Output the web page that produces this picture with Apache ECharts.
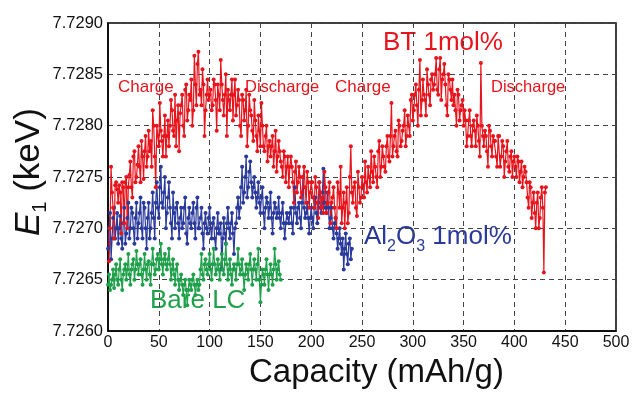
<!DOCTYPE html>
<html><head><meta charset="utf-8">
<script src="https://cdn.jsdelivr.net/npm/echarts@6/dist/echarts.min.js"></script>
<style>html,body{margin:0;padding:0;background:#fff}#c{width:638px;height:394px}</style>
</head><body><div id="c"></div>
<script>
// Capacity sampling (mAh/g): first reading and spacing; the "Mid" arrays sit half a step later
const redStart = 1, redStep = 2;
const blueStart = 0, blueStep = 2;
const greenStart = 0, greenStep = 2;

// E1 (keV) values
const btValues = [
7.72668,7.72760,7.72720,7.72742,7.72738,
7.72742,7.72695,7.72740,7.72745,7.72700,
7.72752,7.72740,7.72770,7.72745,7.72762,
7.72760,7.72785,7.72748,7.72790,7.72770,
7.72775,7.72760,7.72800,7.72740,7.72790,
7.72822,7.72785,7.72790,7.72770,7.72805,
7.72800,7.72815,7.72790,7.72780,7.72820,
7.72812,7.72830,7.72790,7.72840,7.72815,
7.72825,7.72800,7.72868,7.72820,7.72872,
7.72835,7.72855,7.72790,7.72830,7.72825,
7.72835,7.72820,7.72840,7.72795,7.72830,
7.72864,7.72825,7.72830,7.72790,7.72825,
7.72830,7.72805,7.72845,7.72820,7.72825,
7.72790,7.72825,7.72815,7.72780,7.72830,
7.72810,7.72785,7.72805,7.72775,7.72795,
7.72822,7.72780,7.72790,7.72765,7.72785,
7.72780,7.72760,7.72795,7.72770,7.72775,
7.72760,7.72775,7.72745,7.72770,7.72760,
7.72760,7.72725,7.72765,7.72745,7.72750,
7.72735,7.72760,7.72725,7.72745,7.72735,
7.72745,7.72720,7.72740,7.72710,7.72735,
7.72730,7.72755,7.72715,7.72735,7.72705,
7.72730,7.72720,7.72700,7.72735,7.72760,
7.72720,7.72700,7.72740,7.72715,7.72780,
7.72725,7.72745,7.72712,7.72740,7.72730,
7.72742,7.72765,7.72735,7.72750,7.72775,
7.72745,7.72760,7.72740,7.72785,7.72760,
7.72770,7.72755,7.72790,7.72765,7.72822,
7.72780,7.72795,7.72770,7.72800,7.72785,
7.72800,7.72780,7.72810,7.72790,7.72830,
7.72815,7.72840,7.72800,7.72864,7.72825,
7.72830,7.72810,7.72840,7.72820,7.72850,
7.72840,7.72866,7.72830,7.72866,7.72845,
7.72860,7.72820,7.72850,7.72835,7.72845,
7.72830,7.72800,7.72830,7.72815,7.72825,
7.72815,7.72780,7.72805,7.72790,7.72800,
7.72795,7.72810,7.72785,7.72861,7.72790,
7.72795,7.72775,7.72800,7.72780,7.72790,
7.72785,7.72760,7.72790,7.72770,7.72780,
7.72765,7.72785,7.72755,7.72775,7.72765,
7.72760,7.72770,7.72745,7.72765,7.72750,
7.72755,7.72730,7.72745,7.72710,7.72735,
7.72700,7.72735,7.72710,7.72740,7.72657,
7.72740
];
const btValuesMid = [
7.72700,7.72735,7.72690,7.72745,7.72725,
7.72735,7.72745,7.72705,7.72750,7.72740,
7.72765,7.72730,7.72775,7.72750,7.72780,
7.72745,7.72770,7.72775,7.72760,7.72795,
7.72785,7.72815,7.72770,7.72800,7.72780,
7.72795,7.72770,7.72810,7.72790,7.72780,
7.72825,7.72795,7.72830,7.72805,7.72775,
7.72820,7.72800,7.72835,7.72805,7.72830,
7.72845,7.72815,7.72840,7.72860,7.72830,
7.72820,7.72840,7.72815,7.72845,7.72830,
7.72815,7.72845,7.72825,7.72840,7.72815,
7.72840,7.72810,7.72850,7.72835,7.72815,
7.72845,7.72830,7.72810,7.72835,7.72800,
7.72830,7.72805,7.72835,7.72800,7.72815,
7.72795,7.72825,7.72790,7.72810,7.72780,
7.72800,7.72775,7.72800,7.72780,7.72770,
7.72790,7.72775,7.72755,7.72785,7.72765,
7.72750,7.72770,7.72760,7.72740,7.72770,
7.72745,7.72755,7.72735,7.72760,7.72730,
7.72750,7.72740,7.72755,7.72720,7.72745,
7.72730,7.72750,7.72725,7.72745,7.72720,
7.72715,7.72740,7.72725,7.72745,7.72725,
7.72740,7.72710,7.72745,7.72720,7.72705,
7.72735,7.72725,7.72705,7.72750,7.72735,
7.72740,7.72720,7.72755,7.72725,7.72750,
7.72730,7.72745,7.72760,7.72740,7.72755,
7.72770,7.72750,7.72775,7.72750,7.72780,
7.72760,7.72780,7.72770,7.72790,7.72770,
7.72790,7.72775,7.72805,7.72780,7.72795,
7.72815,7.72790,7.72800,7.72825,7.72805,
7.72830,7.72820,7.72835,7.72810,7.72845,
7.72825,7.72855,7.72830,7.72845,7.72835,
7.72850,7.72835,7.72855,7.72825,7.72850,
7.72840,7.72810,7.72845,7.72825,7.72820,
7.72815,7.72835,7.72805,7.72820,7.72800,
7.72805,7.72790,7.72815,7.72780,7.72805,
7.72780,7.72800,7.72770,7.72800,7.72780,
7.72790,7.72760,7.72795,7.72770,7.72785,
7.72770,7.72790,7.72760,7.72785,7.72750,
7.72775,7.72760,7.72770,7.72750,7.72770,
7.72750,7.72765,7.72755,7.72740,7.72760,
7.72745,7.72720,7.72740,7.72725,7.72715,
7.72725,7.72700,7.72730,7.72720,7.72735
];
const al2o3Values = [
7.72680,7.72715,7.72690,7.72720,7.72700,
7.72685,7.72712,7.72680,7.72720,7.72695,
7.72725,7.72700,7.72715,7.72685,7.72725,
7.72705,7.72730,7.72690,7.72720,7.72680,
7.72725,7.72700,7.72735,7.72690,7.72745,
7.72710,7.72760,7.72720,7.72750,7.72715,
7.72745,7.72705,7.72735,7.72700,7.72725,
7.72690,7.72720,7.72705,7.72730,7.72685,
7.72720,7.72700,7.72725,7.72690,7.72730,
7.72700,7.72720,7.72680,7.72715,7.72695,
7.72720,7.72690,7.72710,7.72680,7.72715,
7.72695,7.72660,7.72710,7.72685,7.72720,
7.72690,7.72715,7.72675,7.72705,7.72730,
7.72720,7.72760,7.72735,7.72770,7.72740,
7.72765,7.72730,7.72750,7.72720,7.72745,
7.72715,7.72740,7.72700,7.72730,7.72710,
7.72735,7.72695,7.72725,7.72710,7.72730,
7.72700,7.72725,7.72690,7.72715,7.72705,
7.72720,7.72695,7.72740,7.72705,7.72725,
7.72700,7.72750,7.72710,7.72725,7.72695,
7.72720,7.72700,7.72730,7.72705,7.72745,
7.72715,7.72758,7.72720,7.72735,7.72700,
7.72720,7.72690,7.72710,7.72680,7.72700,
7.72675,7.72660,7.72695,7.72665,7.72690,
7.72680
];
const al2o3ValuesMid = [
7.72700,7.72670,7.72710,7.72690,7.72715,
7.72700,7.72690,7.72705,7.72685,7.72710,
7.72690,7.72720,7.72700,7.72710,7.72690,
7.72715,7.72700,7.72725,7.72700,7.72710,
7.72690,7.72715,7.72710,7.72725,7.72720,
7.72740,7.72725,7.72735,7.72700,7.72730,
7.72720,7.72690,7.72715,7.72720,7.72705,
7.72710,7.72700,7.72720,7.72695,7.72710,
7.72705,7.72715,7.72705,7.72720,7.72700,
7.72710,7.72695,7.72705,7.72700,7.72710,
7.72700,7.72705,7.72690,7.72700,7.72695,
7.72705,7.72690,7.72695,7.72705,7.72700,
7.72705,7.72695,7.72700,7.72720,7.72710,
7.72740,7.72725,7.72750,7.72730,7.72755,
7.72745,7.72740,7.72735,7.72730,7.72725,
7.72730,7.72715,7.72720,7.72725,7.72720,
7.72710,7.72715,7.72720,7.72715,7.72710,
7.72715,7.72705,7.72705,7.72710,7.72715,
7.72705,7.72720,7.72715,7.72720,7.72710,
7.72725,7.72720,7.72715,7.72710,7.72710,
7.72710,7.72720,7.72715,7.72725,7.72720,
7.72735,7.72725,7.72715,7.72720,7.72710,
7.72700,7.72705,7.72695,7.72690,7.72685,
7.72690,7.72680,7.72675,7.72685,7.72670
];
const bareValues = [
7.72645,7.72640,7.72650,7.72642,7.72665,
7.72645,7.72670,7.72640,7.72660,7.72650,
7.72675,7.72645,7.72665,7.72650,7.72678,
7.72655,7.72670,7.72645,7.72675,7.72650,
7.72668,7.72645,7.72680,7.72655,7.72670,
7.72660,7.72685,7.72655,7.72675,7.72660,
7.72680,7.72650,7.72670,7.72645,7.72665,
7.72640,7.72655,7.72635,7.72650,7.72625,
7.72650,7.72640,7.72655,7.72635,7.72650,
7.72645,7.72675,7.72650,7.72670,7.72655,
7.72675,7.72650,7.72680,7.72655,7.72670,
7.72650,7.72675,7.72655,7.72685,7.72650,
7.72670,7.72645,7.72665,7.72650,7.72680,
7.72655,7.72670,7.72640,7.72665,7.72650,
7.72675,7.72645,7.72670,7.72650,7.72680,
7.72628,7.72660,7.72645,7.72670,7.72640,
7.72665,7.72645,7.72680,7.72650,7.72668,
7.72650
];
const bareValuesMid = [
7.72655,7.72645,7.72660,7.72655,7.72650,
7.72660,7.72650,7.72655,7.72665,7.72660,
7.72655,7.72660,7.72670,7.72660,7.72665,
7.72665,7.72655,7.72660,7.72660,7.72665,
7.72655,7.72665,7.72665,7.72660,7.72675,
7.72670,7.72665,7.72670,7.72665,7.72670,
7.72665,7.72660,7.72655,7.72660,7.72650,
7.72650,7.72645,7.72645,7.72640,7.72640,
7.72645,7.72650,7.72645,7.72645,7.72640,
7.72660,7.72655,7.72665,7.72660,7.72665,
7.72660,7.72665,7.72665,7.72660,7.72660,
7.72665,7.72660,7.72670,7.72665,7.72660,
7.72655,7.72660,7.72660,7.72665,7.72665,
7.72660,7.72655,7.72655,7.72660,7.72665,
7.72660,7.72660,7.72660,7.72665,7.72650,
7.72645,7.72655,7.72660,7.72655,7.72655,
7.72655,7.72660,7.72665,7.72660,7.72655
];
const xTicks = {min: 0, max: 500, interval: 50};
const yTicks = {min: 7.7260, max: 7.7290, interval: 0.0005};

// Interleave the two reading arrays of a series into [capacity, E1] pairs
function merge(start, step, vals, mid) {
  const out = [];
  vals.forEach((v, i) => {
    out.push([start + i * step, v]);
    if (i < mid.length) out.push([start + i * step + step / 2, mid[i]]);
  });
  return out;
}

const RED = '#e8141c', BLUE = '#2a3a9c', GREEN = '#1fa04a';
const FONT = 'Liberation Sans, Arial, sans-serif';
const chart = echarts.init(document.getElementById('c'), null, {renderer: 'canvas'});
const mk = (name, data, color) => ({
  name, type: 'line', data, symbol: 'circle', symbolSize: 4,
  itemStyle: {color}, lineStyle: {color, width: 1.2}, animation: false
});
chart.setOption({
  animation: false,
  grid: {left: 108, right: 22, top: 23, bottom: 63, show: true, borderColor: '#000', borderWidth: 1.5, backgroundColor: 'transparent'},
  xAxis: {
    type: 'value', min: xTicks.min, max: xTicks.max, interval: xTicks.interval,
    axisLine: {show: true, lineStyle: {color: '#000', width: 1.5}},
    axisTick: {show: false},
    axisLabel: {color: '#111', fontSize: 16, fontFamily: FONT, margin: 4},
    splitLine: {show: true, lineStyle: {color: '#444', type: [5, 4], width: 1}}
  },
  yAxis: {
    type: 'value', min: yTicks.min, max: yTicks.max, interval: yTicks.interval,
    axisLine: {show: true, lineStyle: {color: '#000', width: 1.5}},
    axisTick: {show: false},
    axisLabel: {color: '#111', fontSize: 16.5, fontFamily: FONT, margin: 5, formatter: v => v.toFixed(4)},
    splitLine: {show: true, lineStyle: {color: '#444', type: [5, 4], width: 1}}
  },
  series: [
    mk('Al2O3 1mol%', merge(blueStart, blueStep, al2o3Values, al2o3ValuesMid), BLUE),
    mk('Bare LC', merge(greenStart, greenStep, bareValues, bareValuesMid), GREEN),
    mk('BT 1mol%', merge(redStart, redStep, btValues, btValuesMid), RED)
  ],
  graphic: [
    {type: 'text', left: 118, top: 79, style: {text: 'Charge', fill: RED, font: '17px ' + FONT}},
    {type: 'text', left: 245, top: 79, style: {text: 'Discharge', fill: RED, font: '16.5px ' + FONT}},
    {type: 'text', left: 335, top: 79, style: {text: 'Charge', fill: RED, font: '17px ' + FONT}},
    {type: 'text', left: 491, top: 79, style: {text: 'Discharge', fill: RED, font: '16.5px ' + FONT}},
    {type: 'text', left: 383, top: 30, style: {text: 'BT 1mol%', fill: RED, font: '26px ' + FONT}},
    {type: 'text', left: 150, top: 288, style: {text: 'Bare LC', fill: GREEN, font: '26px ' + FONT}},
    {type: 'text', left: 364, top: 224, style: {
      text: '{m|Al}{s|2}{m|O}{s|3}{m| 1mol%}', fill: BLUE,
      rich: {m: {fontSize: 26, fontFamily: FONT, fill: BLUE, lineHeight: 30, verticalAlign: 'top'},
             s: {fontSize: 16, fontFamily: FONT, fill: BLUE, lineHeight: 30, verticalAlign: 'top', padding: [15, 0, 0, 0]}}
    }},
    {type: 'text', left: 249, top: 356, style: {text: 'Capacity (mAh/g)', fill: '#111', font: '33px ' + FONT}},
    {type: 'text', x: 12, y: 236, rotation: Math.PI / 2, style: {
      text: '{e|E}{s|1}{m| (keV)}', fill: '#111',
      rich: {e: {fontSize: 35, fontStyle: 'italic', fontFamily: FONT, fill: '#111', lineHeight: 38, verticalAlign: 'top'},
             s: {fontSize: 20, fontFamily: FONT, fill: '#111', lineHeight: 38, verticalAlign: 'top', padding: [18, 0, 0, 0]},
             m: {fontSize: 35, fontFamily: FONT, fill: '#111', lineHeight: 38, verticalAlign: 'top'}}
    }}
  ]
});
</script></body></html>
